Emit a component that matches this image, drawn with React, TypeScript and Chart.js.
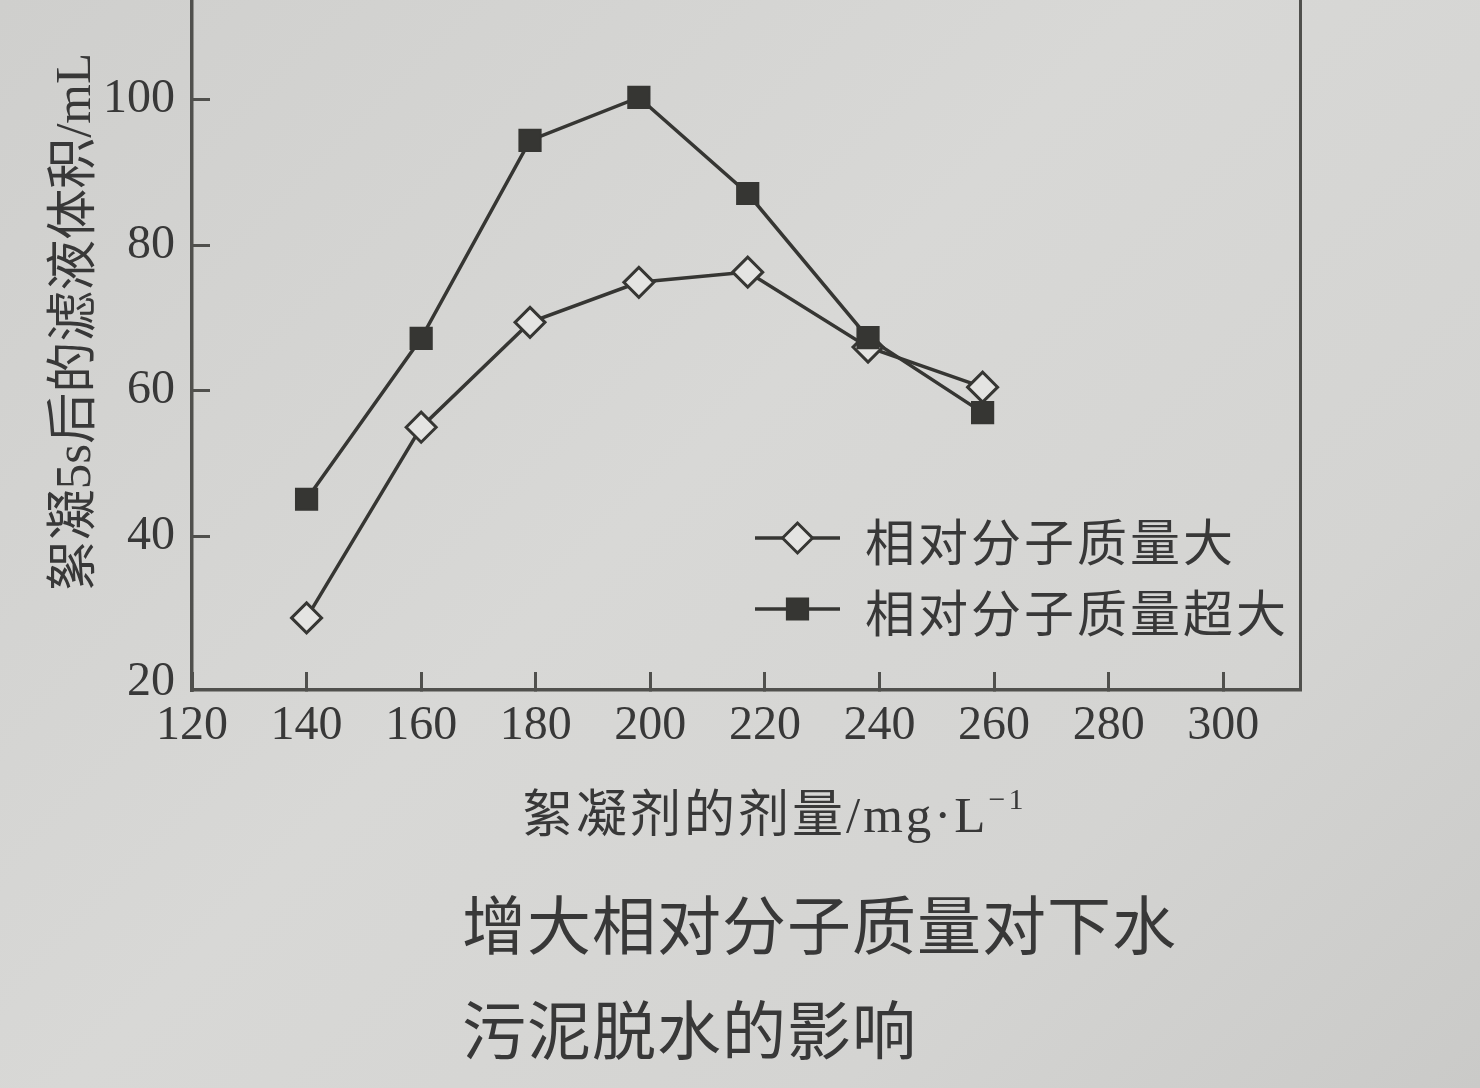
import React, { useEffect, useRef } from 'react';
import { Chart, registerables } from 'chart.js';

Chart.register(...registerables);

// ---- data ----
const doses = [140, 160, 179, 198, 217, 238, 258];
const largeMW = [28.8, 55.0, 69.4, 74.9, 76.3, 66.0, 60.5];
const ultraMW = [45.1, 67.2, 94.4, 100.3, 87.1, 67.3, 57.0];
const xTickValues = [120, 140, 160, 180, 200, 220, 240, 260, 280, 300];
const yTickValues = [20, 40, 60, 80, 100];
const seriesLabels = ['相对分子质量大', '相对分子质量超大'];
const yTitle = '絮凝5s后的滤液体积/mL';
const xTitleMain = '絮凝剂的剂量/mg·L';
const xTitleSup = '−1';
const captionLines = ['增大相对分子质量对下水', '污泥脱水的影响'];

const INK = '#363633';
const AXIS = '#50504d';
const TEXT = '#383838';
const MARKER_FILL = '#e4e4e2';
const SERIF = "'Liberation Serif', 'Noto Sans CJK SC', serif";
const CJK = "'Noto Sans CJK SC', sans-serif";

const CANVAS_TOP = -46;
const CANVAS_H = 1088 - CANVAS_TOP;

function drawMarker(ctx: CanvasRenderingContext2D, style: string, x: number, y: number, r: number, fill: string, stroke: string, lw: number) {
  ctx.beginPath();
  if (style === 'rectRot') {
    ctx.moveTo(x - r, y);
    ctx.lineTo(x, y - r);
    ctx.lineTo(x + r, y);
    ctx.lineTo(x, y + r);
    ctx.closePath();
  } else {
    const s = Math.SQRT1_2 * r;
    ctx.rect(x - s, y - s, 2 * s, 2 * s);
  }
  ctx.fillStyle = fill;
  ctx.fill();
  ctx.lineWidth = lw;
  ctx.strokeStyle = stroke;
  ctx.stroke();
}

const insideLegend = {
  id: 'insideLegend',
  afterDatasetsDraw(chart: any) {
    const { ctx, chartArea } = chart;
    const rowsY = [chartArea.bottom - 152, chartArea.bottom - 81];
    const lineStart = chartArea.right - 545;
    const lineLen = 85;
    ctx.save();
    seriesLabels.forEach((label, i) => {
      const ds = chart.data.datasets.find((d: any) => d.label === label);
      if (!ds) return;
      const y = rowsY[i];
      ctx.beginPath();
      ctx.moveTo(lineStart, y);
      ctx.lineTo(lineStart + lineLen, y);
      ctx.lineWidth = ds.borderWidth;
      ctx.strokeStyle = ds.borderColor;
      ctx.stroke();
      drawMarker(ctx, ds.pointStyle, lineStart + lineLen / 2, y, ds.pointRadius, ds.pointBackgroundColor, ds.pointBorderColor, ds.pointBorderWidth);
      ctx.fillStyle = TEXT;
      ctx.font = `50px ${CJK}`;
      (ctx as any).letterSpacing = '3px';
      ctx.textBaseline = 'middle';
      ctx.textAlign = 'left';
      ctx.fillText(label, lineStart + 110, y + 4);
    });
    ctx.restore();
  },
};

export default function App() {
  const canvasRef = useRef<HTMLCanvasElement | null>(null);

  useEffect(() => {
    if (!canvasRef.current) return;
    const chart = new Chart(canvasRef.current, {
      type: 'line',
      data: {
        datasets: [
          {
            label: seriesLabels[0],
            data: doses.map((d, i) => ({ x: d, y: largeMW[i] })),
            borderColor: INK,
            borderWidth: 3.5,
            pointStyle: 'rectRot',
            pointRadius: 15,
            pointBackgroundColor: MARKER_FILL,
            pointBorderColor: INK,
            pointBorderWidth: 3,
            tension: 0,
            fill: false,
            order: 2,
          } as any,
          {
            label: seriesLabels[1],
            data: doses.map((d, i) => ({ x: d, y: ultraMW[i] })),
            borderColor: INK,
            borderWidth: 3.5,
            pointStyle: 'rect',
            pointRadius: 15,
            pointBackgroundColor: INK,
            pointBorderColor: INK,
            pointBorderWidth: 2,
            tension: 0,
            fill: false,
            order: 1,
          } as any,
        ],
      },
      options: {
        animation: false,
        responsive: true,
        maintainAspectRatio: false,
        events: [],
        layout: { autoPadding: false, padding: { top: 0, left: 0, right: 180, bottom: 0 } },
        plugins: {
          legend: { display: false },
          tooltip: { enabled: false },
          title: { display: false },
        },
        scales: {
          x: {
            type: 'linear',
            position: 'bottom',
            min: 120,
            max: 313.4,
            afterBuildTicks: (s: any) => {
              s.ticks = xTickValues.map((v) => ({ value: v }));
            },
            afterFit: (s: any) => {
              s.height = CANVAS_H - (690 - CANVAS_TOP);
              s.paddingLeft = 0;
              s.paddingRight = 0;
            },
            ticks: {
              font: { family: SERIF, size: 48 },
              color: TEXT,
              padding: 26,
              maxRotation: 0,
              autoSkip: false,
            },
            grid: {
              display: true,
              drawOnChartArea: false,
              drawTicks: true,
              tickLength: -18,
              lineWidth: 3,
              color: AXIS,
            },
            border: { display: true, color: AXIS, width: 3.5 },
          },
          y: {
            type: 'linear',
            position: 'left',
            min: 18.9,
            max: 120,
            afterBuildTicks: (s: any) => {
              s.ticks = yTickValues.map((v) => ({ value: v }));
            },
            afterFit: (s: any) => {
              s.width = 192;
              s.paddingTop = 0;
              s.paddingBottom = 0;
            },
            ticks: {
              font: { family: SERIF, size: 48 },
              color: TEXT,
              padding: 35,
            },
            grid: {
              display: true,
              drawOnChartArea: false,
              drawTicks: true,
              tickLength: -18,
              lineWidth: 3,
              color: (c: any) => (c.tick && c.tick.value === 20 ? 'rgba(0,0,0,0)' : AXIS),
            },
            border: { display: true, color: AXIS, width: 3.5 },
            title: {
              display: true,
              text: yTitle,
              font: { family: SERIF, size: 51 },
              color: TEXT,
              padding: { top: 46, bottom: 0 },
            },
          },
          y2: {
            type: 'linear',
            position: 'right',
            display: true,
            afterFit: (s: any) => {
              s.width = 0;
            },
            ticks: { display: false },
            grid: { display: false },
            border: { display: true, color: AXIS, width: 3 },
          },
        },
      } as any,
      plugins: [insideLegend],
    });
    return () => chart.destroy();
  }, []);

  return (
    <div
      style={{
        position: 'absolute',
        left: 0,
        top: 0,
        width: 1480,
        height: 1088,
        overflow: 'hidden',
        background: 'linear-gradient(135deg, #cfcfcd 0%, #d8d8d6 45%, #d4d4d2 75%, #cacac8 100%)',
      }}
    >
      <div style={{ position: 'absolute', left: 0, top: CANVAS_TOP, width: 1480, height: CANVAS_H }}>
        <canvas ref={canvasRef} />
      </div>
      <div
        style={{
          position: 'absolute',
          left: 522,
          top: 790,
          fontFamily: SERIF,
          fontSize: 51,
          lineHeight: 1,
          letterSpacing: 3,
          color: TEXT,
          whiteSpace: 'nowrap',
        }}
      >
        {xTitleMain}
        <sup style={{ fontSize: 30, verticalAlign: 'top', position: 'relative', top: -6 }}>{xTitleSup}</sup>
      </div>
      {captionLines.map((line, i) => (
        <div
          key={i}
          style={{
            position: 'absolute',
            left: 462,
            top: 889 + i * 105,
            fontFamily: CJK,
            fontSize: 64,
            lineHeight: 1,
            letterSpacing: 1,
            color: TEXT,
            whiteSpace: 'nowrap',
          }}
        >
          {line}
        </div>
      ))}
    </div>
  );
}
